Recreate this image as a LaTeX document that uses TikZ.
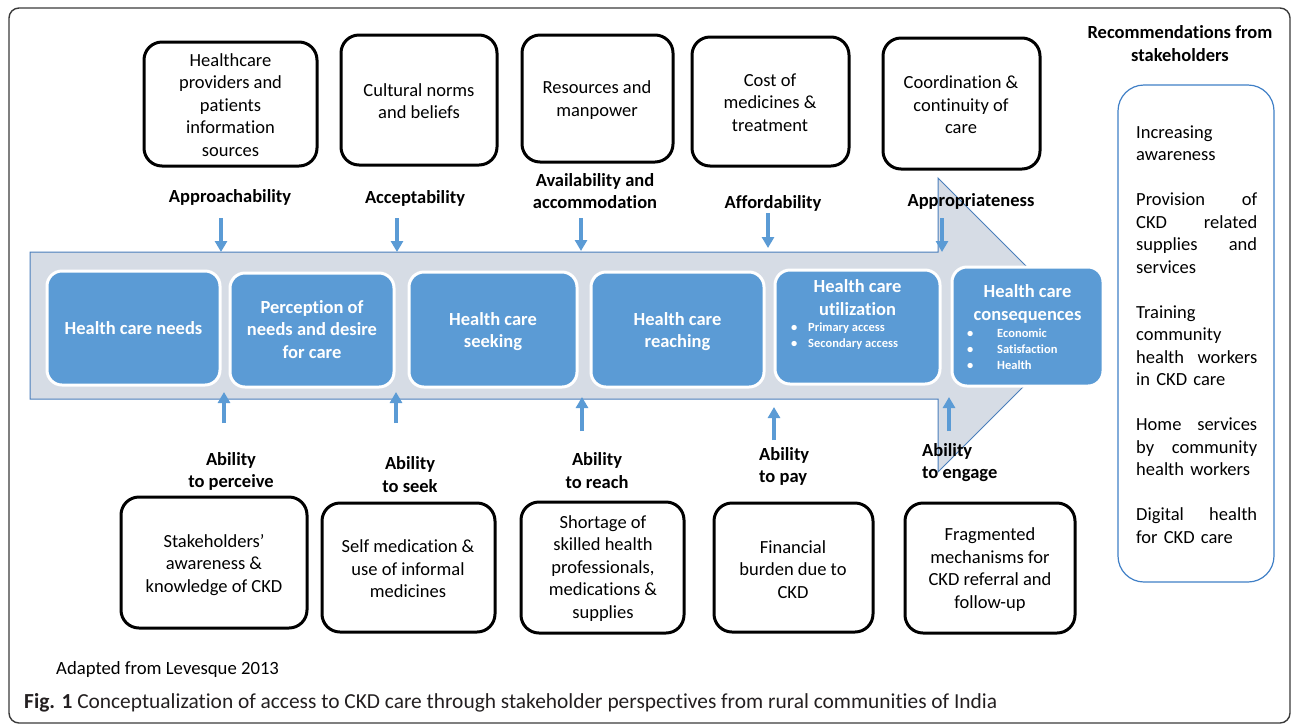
\documentclass[tikz,border=0pt]{standalone}
\usepackage{fontspec}
\setmainfont{Carlito}[Ligatures=CommonOff]
\usetikzlibrary{arrows.meta}

\definecolor{flowblue}{HTML}{5B9BD5}
\definecolor{shaftfill}{HTML}{D6DCE5}
\definecolor{shaftline}{HTML}{4A7EBB}
\definecolor{panelline}{HTML}{3F7FC6}
\definecolor{framegray}{HTML}{3A3A3A}
\definecolor{captext}{HTML}{231F20}

\tikzset{
  bodyfont/.style={font=\fontsize{18.5}{22.5}\selectfont},
  boldfont/.style={font=\fontsize{18.5}{22.5}\selectfont\bfseries},
  topbox/.style={draw=black, line width=3pt, rounded corners=18pt, fill=white, inner sep=0pt},
  flowbox/.style={draw=white, line width=3pt, rounded corners=15pt, fill=flowblue, inner sep=0pt},
  boxtext/.style={bodyfont, align=center, inner sep=0pt},
  flowtext/.style={boldfont, text=white, align=center, inner sep=0pt},
  bullettext/.style={font=\fontsize{12.5}{16}\selectfont\bfseries, text=white, align=left, inner sep=0pt},
  dimlabel/.style={boldfont, align=center, inner sep=0pt},
  dimlabelleft/.style={boldfont, align=left, inner sep=0pt, anchor=west},
  influence/.style={draw=flowblue, line width=4pt, -{Triangle[length=11pt,width=12pt]}, shorten <=0pt},
}

\begin{document}
\begin{tikzpicture}[x=1pt,y=-1pt]
\useasboundingbox (0,0) rectangle (1292,724);

% outer frame
\draw[framegray, line width=1.4pt, rounded corners=10pt] (9,8) rectangle (1290,723);

% the big access arrow
\draw[shaftline, line width=1pt, fill=shaftfill]
  (30,252) -- (938,252) -- (938,178) -- (1085,325) -- (938,472) -- (938,399) -- (30,399) -- cycle;

% stages of access along the arrow
\node[flowbox, minimum width=173pt, minimum height=114pt] (s1) at (133.5,328) {};
\node[flowbox, minimum width=164pt, minimum height=114pt] (s2) at (312,330) {};
\node[flowbox, minimum width=168pt, minimum height=115pt] (s3) at (493,329.5) {};
\node[flowbox, minimum width=173pt, minimum height=115pt] (s4) at (677.5,329.5) {};
\node[flowbox, minimum width=165pt, minimum height=114pt] (s5) at (857.5,327) {};
\node[flowbox, minimum width=151pt, minimum height=119pt] (s6) at (1027.5,326.5) {};

\node[flowtext] (s1t) at (s1) {Health care needs};
\node[flowtext] (s2t) at (312,329.5) {Perception of\\needs and desire\\for care};
\node[flowtext] (s3t) at (493,331.5) {Health care\\seeking};
\node[flowtext] (s4t) at (677.5,331.5) {Health care\\reaching};
\node[flowtext] (s5t) at (857.5,297.5) {Health care\\utilization};
\node[bullettext, anchor=west] (s5b) at (791,336) {\makebox[17pt][l]{\textbullet}Primary access\\\makebox[17pt][l]{\textbullet}Secondary access};
\node[flowtext] (s6t) at (1027.5,304) {Health care\\consequences};
\node[bullettext, anchor=west] (s6b) at (967,349) {\makebox[30pt][l]{\textbullet}Economic\\\makebox[30pt][l]{\textbullet}Satisfaction\\\makebox[30pt][l]{\textbullet}Health};

% supply-side factors
\node[topbox, minimum width=173pt, minimum height=124pt] (t1) at (230.5,104) {};
\node[topbox, minimum width=156pt, minimum height=130pt] (t2) at (419,100) {};
\node[topbox, minimum width=151pt, minimum height=127pt] (t3) at (597.5,98.5) {};
\node[topbox, minimum width=157pt, minimum height=129pt] (t4) at (770.5,101.5) {};
\node[topbox, minimum width=157pt, minimum height=131pt] (t5) at (961.5,103.5) {};

\node[boxtext] (t1t) at (230.5,105) {Healthcare\\providers and\\patients\\information\\sources};
\node[boxtext] (t2t) at (419,101) {Cultural norms\\and beliefs};
\node[boxtext] (t3t) at (597,100) {Resources and\\manpower};
\node[boxtext] (t4t) at (770,102.5) {Cost of\\medicines \&\\treatment};
\node[boxtext] (t5t) at (961,105) {Coordination \&\\continuity of\\care};

% dimensions of accessibility
\node[dimlabel] (d1) at (230,197.5) {Approachability};
\node[dimlabel] (d2) at (415,198.5) {Acceptability};
\node[dimlabel] (d3) at (595,191) {Availability and\\accommodation};
\node[dimlabel] (d4) at (773,203.5) {Affordability};
\node[dimlabel] (d5) at (971,201.5) {Appropriateness};

\coordinate (d1a) at (221,218); \coordinate (d1b) at (221,252);
\coordinate (d2a) at (397,218); \coordinate (d2b) at (397,252);
\coordinate (d3a) at (581,218); \coordinate (d3b) at (581,251);
\coordinate (d4a) at (768,213); \coordinate (d4b) at (768,248);
\coordinate (d5a) at (942,218); \coordinate (d5b) at (942,252);
\foreach \k in {1,...,5} \draw[influence] (d\k a) -- (d\k b);

% abilities of persons
\coordinate (a1a) at (224,423); \coordinate (a1b) at (224,392);
\coordinate (a2a) at (396,423); \coordinate (a2b) at (396,392);
\coordinate (a3a) at (582,431); \coordinate (a3b) at (582,397);
\coordinate (a4a) at (774,440); \coordinate (a4b) at (774,407);
\coordinate (a5a) at (949,431); \coordinate (a5b) at (949,397);
\foreach \k in {1,...,5} \draw[influence] (a\k a) -- (a\k b);

\node[dimlabel] (b1) at (231,471.5) {Ability\\to perceive};
\node[dimlabel] (b2) at (410,474.5) {Ability\\to seek};
\node[dimlabel] (b3) at (597,470.5) {Ability\\to reach};
\node[dimlabelleft] (b4) at (759,466.5) {Ability\\to pay};
\node[dimlabelleft] (b5) at (922,462.5) {Ability\\to engage};

% demand-side barriers
\node[topbox, minimum width=186pt, minimum height=131pt] (u1) at (214,562.5) {};
\node[topbox, minimum width=173pt, minimum height=129pt] (u2) at (408.5,567.5) {};
\node[topbox, minimum width=163pt, minimum height=131pt] (u3) at (602.5,567.5) {};
\node[topbox, minimum width=159pt, minimum height=129pt] (u4) at (793.5,567.5) {};
\node[topbox, minimum width=170pt, minimum height=130pt] (u5) at (990,568) {};

\node[boxtext] (u1t) at (214,565) {Stakeholders’\\awareness \&\\knowledge of CKD};
\node[boxtext] (u2t) at (408,569) {Self medication \&\\use of informal\\medicines};
\node[boxtext] (u3t) at (603,568.5) {Shortage of\\skilled health\\professionals,\\medications \&\\supplies};
\node[boxtext] (u4t) at (793,569.5) {Financial\\burden due to\\CKD};
\node[boxtext] (u5t) at (990,569.5) {Fragmented\\mechanisms for\\CKD referral and\\follow-up};

% recommendations panel
\node[boldfont, align=center, inner sep=0pt] (rh) at (1180,43.5) {Recommendations from\\stakeholders};
\draw[panelline, line width=1.2pt, rounded corners=26pt] (1118,85) rectangle (1274,582);
\node[bodyfont, align=left, text width=121pt, inner sep=0pt, anchor=north west] (rt) at (1136,125.5)
  {Increasing\\awareness\\[22.5pt]Provision \hfill of\\CKD \hfill related\\supplies \hfill and\\services\\[22.5pt]Training\\community\\health \hfill workers\\in CKD care\\[22.5pt]Home \hfill services\\by \hfill community\\health workers\\[22.5pt]Digital \hfill health\\for CKD care};

% source and caption
\node[font=\fontsize{18.7}{22}\selectfont, anchor=west, inner sep=0pt] (src) at (56,669) {Adapted from Levesque 2013};
\node[font=\fontsize{21.4}{25}\selectfont, text=captext, anchor=west, inner sep=0pt] (cap) at (24,703)
  {\textbf{Fig. 1} Conceptualization of access to CKD care through stakeholder perspectives from rural communities of India};
\end{tikzpicture}
\end{document}
